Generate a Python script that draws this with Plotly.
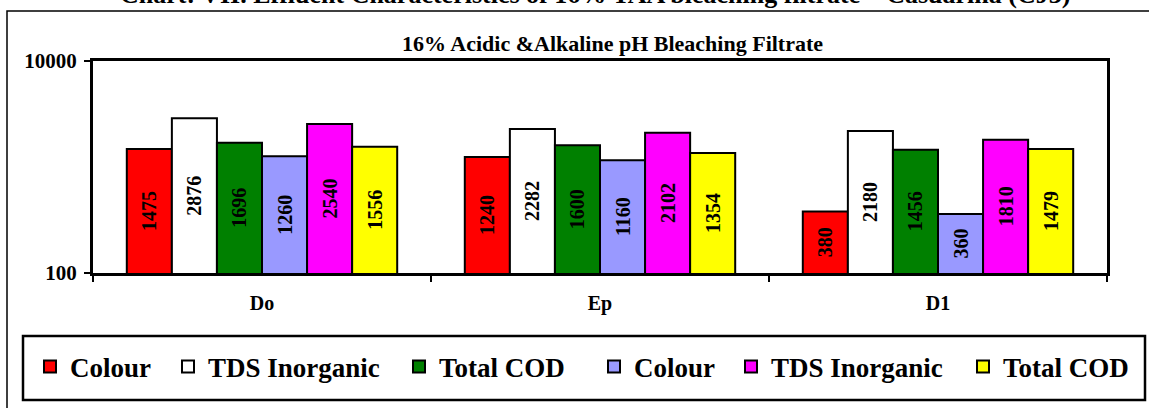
import plotly.graph_objects as go

categories = ["Do", "Ep", "D1"]
series_names = ["Colour", "TDS Inorganic", "Total COD", "Colour", "TDS Inorganic", "Total COD"]
colour_a = [1475, 1240, 380]
tds_a = [2876, 2282, 2180]
cod_a = [1696, 1600, 1456]
colour_b = [1260, 1160, 360]
tds_b = [2540, 2102, 1810]
cod_b = [1556, 1354, 1479]
series_values = [colour_a, tds_a, cod_a, colour_b, tds_b, cod_b]
y_tick_vals = [100, 10000]
y_tick_text = ["100", "10000"]

title_text = "Chart: VII. Effluent Characteristics of 16% TAA bleaching filtrate \u2013 Casuarina (CJ3)"
subtitle_text = "16% Acidic &Alkaline pH Bleaching Filtrate"

colors = ["#FF0000", "#FFFFFF", "#008000", "#9999FF", "#FF00FF", "#FFFF00"]
FONT = "Liberation Serif"

W, H = 1149, 408
L, R, T, B = 93, 1107, 61, 273  # plot area pixels


def px(x):
    return (x - L) / (R - L)


def py(y):
    return (B - y) / (B - T)


# legend symbol centres (pixels)
leg_centres = [50, 188, 419, 614, 751, 983]

fig = go.Figure()
for i, (name, vals) in enumerate(zip(series_names, series_values)):
    lname = "legend" if i == 0 else f"legend{i+1}"
    fig.add_trace(go.Bar(
        x=categories, y=vals, name=name,
        marker=dict(color=colors[i], line=dict(color="black", width=2)),
        text=[str(v) for v in vals],
        textposition="inside", insidetextanchor="middle", textangle=-90,
        textfont=dict(family=FONT, size=20, color="black", weight="bold"),
        legend=lname, hoverinfo="x+y+name",
    ))

layout_legends = {}
for i, c in enumerate(leg_centres):
    lname = "legend" if i == 0 else f"legend{i+1}"
    layout_legends[lname] = dict(
        x=px(c - 20), xanchor="left", y=py(367), yanchor="middle",
        orientation="h", bgcolor="rgba(0,0,0,0)", borderwidth=0,
        font=dict(family=FONT, size=27, color="black", weight="bold"),
    )

fig.update_layout(
    width=W, height=H,
    margin=dict(l=L, r=W - R, t=T, b=H - B, pad=0, autoexpand=False),
    paper_bgcolor="white", plot_bgcolor="white",
    barmode="group", bargap=0.2, bargroupgap=0,
    showlegend=True,
    font=dict(family=FONT, color="black"),
    xaxis=dict(
        showline=True, linecolor="black", linewidth=3, mirror=True,
        ticks="outside", tickson="boundaries", ticklen=6, tickwidth=2, tickcolor="black",
        tickfont=dict(family=FONT, size=20, color="black", weight="bold"),
        ticklabelstandoff=10, showgrid=False,
    ),
    yaxis=dict(
        type="log", range=[2, 4], tickvals=y_tick_vals, ticktext=y_tick_text,
        showline=True, linecolor="black", linewidth=3, mirror=True,
        ticks="outside", ticklen=6, tickwidth=2, tickcolor="black",
        tickfont=dict(family=FONT, size=21, color="black", weight="bold"),
        ticklabelstandoff=3, showgrid=False, zeroline=False,
    ),
    **layout_legends,
)

shapes = [
    # outer chart area border
    dict(type="rect", xref="paper", yref="paper",
         x0=px(7), x1=px(1165), y0=py(11), y1=py(430),
         line=dict(color="black", width=1.5), layer="below"),
    # legend box
    dict(type="rect", xref="paper", yref="paper",
         x0=px(23), x1=px(1145), y0=py(336), y1=py(400),
         line=dict(color="black", width=2.5), layer="below"),
]
fig.update_layout(shapes=shapes)

fig.add_annotation(text=title_text, xref="paper", yref="paper",
                   x=px(595), y=py(11), xanchor="center", yanchor="bottom",
                   showarrow=False,
                   font=dict(family=FONT, size=26, color="black", weight="bold"))
fig.add_annotation(text=subtitle_text, xref="paper", yref="paper",
                   x=px(612), y=py(44), xanchor="center", yanchor="middle",
                   showarrow=False,
                   font=dict(family=FONT, size=22, color="black", weight="bold"))

fig.write_html(
    "out.html",
    config={"displayModeBar": False},
    post_script="document.body.style.margin='0px';document.body.style.overflow='hidden';",
)
